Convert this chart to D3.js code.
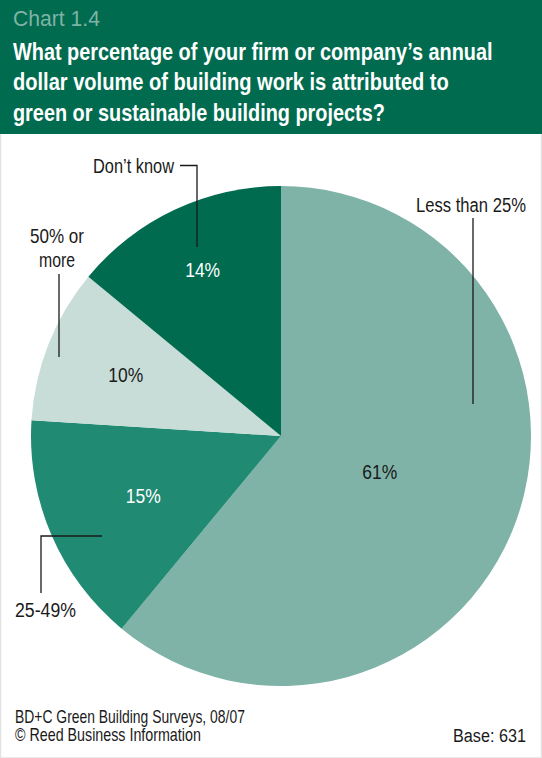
<!DOCTYPE html>
<html><head><meta charset="utf-8">
<script src="https://cdn.jsdelivr.net/npm/d3@7"></script>
<style>
html,body{margin:0;padding:0;background:#fff;}
svg{display:block;}
text{font-family:"Liberation Sans",Arial,"DejaVu Sans",sans-serif;}
</style></head>
<body>
<script>
// Data
const chartNumber = "Chart 1.4";
const titleLines = [
  "What percentage of your firm or company\u2019s annual",
  "dollar volume of building work is attributed to",
  "green or sustainable building projects?"
];
const categories = ["Less than 25%", "25-49%", "50% or more", "Don\u2019t know"];
const values = [61, 15, 10, 14];
const sourceLines = ["BD+C Green Building Surveys, 08/07", "\u00A9 Reed Business Information"];
const baseNote = "Base: 631";

// Styling / layout (not data)
const W = 542, H = 758;
const colors = ["#80b3a7", "#208a73", "#c8ddd7", "#006b4f"];
const valueTextColors = ["#1a1a1a", "#ffffff", "#1a1a1a", "#ffffff"];
const valueLabelRadius = [105, 150, 167, 184];
const titleWidths = [480, 436, 372];

// Condense a text (reference font is a condensed face): scale horizontally
// about its anchor point so its width equals w.
function fit(sel, w) {
  sel.each(function () {
    const t = d3.select(this);
    const x = +t.attr("x") || 0;
    const nat = this.getComputedTextLength();
    const k = typeof w === "function" ? w(t.datum()) / nat : w / nat;
    t.attr("transform", `translate(${x},0) scale(${k},1) translate(${-x},0)`);
  });
  return sel;
}

const svg = d3.select("body").append("svg").attr("width", W).attr("height", H);

// Frame
svg.append("rect").attr("x", 0.5).attr("y", 0).attr("width", W - 1).attr("height", H)
  .attr("fill", "#fff").attr("stroke", "#e2e2e2").attr("stroke-width", 1.5);

// Header
svg.append("rect").attr("x", 0).attr("y", 0).attr("width", W).attr("height", 134).attr("fill", "#006b4f");
fit(svg.append("text").attr("x", 13).attr("y", 26).attr("fill", "#7fb3a5")
  .attr("font-size", 22).text(chartNumber), 87);
const titleSel = svg.append("g").selectAll("text").data(titleLines).join("text")
  .attr("x", 13).attr("y", (d, i) => 60 + i * 30.5)
  .attr("fill", "#fff").attr("font-size", 23.5).attr("font-weight", "bold")
  .text(d => d);
fit(titleSel, d => titleWidths[titleLines.indexOf(d)]);

// Pie
const cx = 281, cy = 436, R = 250;
const pie = d3.pie().sort(null).value(d => d.v);
const arcs = pie(categories.map((c, i) => ({c, v: values[i], i})));
const arc = d3.arc().innerRadius(0).outerRadius(R);
const g = svg.append("g").attr("transform", `translate(${cx},${cy})`);
g.selectAll("path").data(arcs).join("path")
  .attr("d", arc).attr("fill", d => colors[d.data.i]);

const valSel = g.selectAll("text.val").data(arcs).join("text").attr("class", "val")
  .attr("x", d => {
    const a = (d.startAngle + d.endAngle) / 2;
    return Math.sin(a) * valueLabelRadius[d.data.i];
  })
  .attr("y", d => {
    const a = (d.startAngle + d.endAngle) / 2;
    return -Math.cos(a) * valueLabelRadius[d.data.i];
  })
  .attr("text-anchor", "middle").attr("dy", "0.36em")
  .attr("font-size", 20).attr("fill", d => valueTextColors[d.data.i])
  .text(d => d.data.v + "%");
fit(valSel, 35);

// Category labels with leader lines
const lab = svg.append("g").attr("font-size", 20).attr("fill", "#1a1a1a");
const line = (pts) => svg.append("path").attr("d", d3.line()(pts))
  .attr("fill", "none").attr("stroke", "#1a1a1a").attr("stroke-width", 1.3);

fit(lab.append("text").attr("x", 416).attr("y", 212).text(categories[0]), 110);
line([[473, 218], [473, 404]]);

fit(lab.append("text").attr("x", 15).attr("y", 617).text(categories[1]), 61);
line([[102, 536], [41, 536], [41, 593]]);

const parts = categories[2].split(" or ");
fit(lab.append("text").attr("x", 30).attr("y", 243).text(parts[0] + " or"), 54);
fit(lab.append("text").attr("x", 39).attr("y", 267).text(parts[1]), 36);
line([[59, 274], [59, 357]]);

fit(lab.append("text").attr("x", 93).attr("y", 173).text(categories[3]), 81);
line([[180, 165.5], [197, 165.5], [197, 247]]);

// Footer
const foot = svg.append("g").attr("font-size", 18).attr("fill", "#1a1a1a");
const srcW = [230, 186];
const srcSel = foot.selectAll("text.src").data(sourceLines).join("text").attr("class", "src")
  .attr("x", 15).attr("y", (d, i) => 723 + i * 18.5)
  .text(d => d);
fit(srcSel, d => srcW[sourceLines.indexOf(d)]);
fit(foot.append("text").attr("x", 453).attr("y", 742).attr("font-size", 19).text(baseNote), 73);
</script>
</body></html>
